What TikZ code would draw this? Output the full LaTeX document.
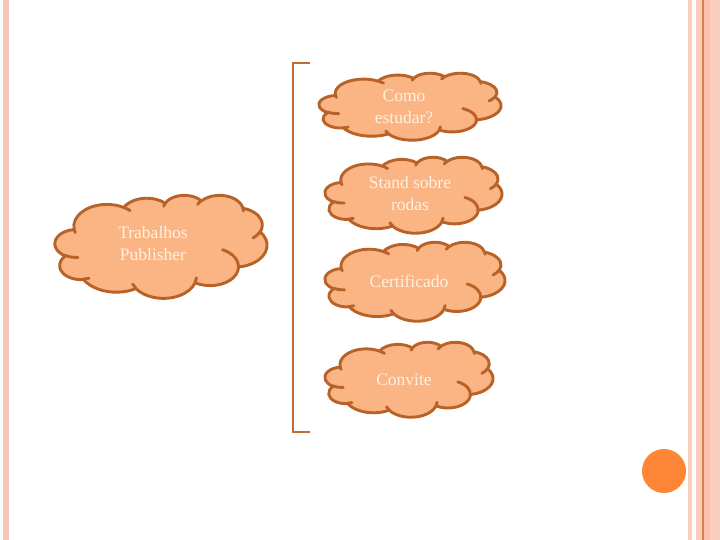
\documentclass[tikz,border=0pt]{standalone}
\usepackage{fontspec}
\setmainfont{Liberation Serif}
\definecolor{cloudfill}{RGB}{251,180,132}
\definecolor{cloudline}{RGB}{184,98,40}
\definecolor{cloudtxt}{RGB}{255,242,224}
\definecolor{brk}{RGB}{196,108,48}
\definecolor{stripeA}{RGB}{248,198,180}
\definecolor{stripeB}{RGB}{251,192,168}
\definecolor{stripeC}{RGB}{250,206,190}
\definecolor{stripeD}{RGB}{214,128,80}
\definecolor{dotc}{RGB}{253,134,55}
\tikzset{
  cloudshape/.style={draw=cloudline, fill=cloudfill, line width=2.9pt, line join=round},
  cloudlines/.style={draw=cloudline, line width=2.9pt, line cap=round},
  cloudtext/.style={text=cloudtxt, align=center, inner sep=0pt,
    font=\fontsize{17.5}{22}\selectfont},
  bracket/.style={draw=brk, line width=1.8pt},
  ca/.style n args={4}{insert path={arc[x radius=#1, y radius=#2,
     start angle={-atan2(#1*sin(#3),#2*cos(#3))},
     delta angle={-mod(atan2(#1*sin(#3+#4),#2*cos(#3+#4))-atan2(#1*sin(#3),#2*cos(#3))+720,360)}]}},
}
\newcommand{\pptcloud}[4]{%
  \pgfmathsetmacro\cux{#3/432}\pgfmathsetmacro\cuy{#4/432}%
  \begin{scope}[shift={(#1,#2+#4)}, x=\cux pt, y=\cuy pt]
    \path[cloudshape] (39.00,288.30)
      [ca={67.53}{91.90}{-190.49}{123.78}]
      [ca={53.33}{72.67}{-144.10}{89.95}]
      [ca={43.65}{59.45}{-145.81}{99.72}]
      [ca={48.57}{65.95}{-130.99}{117.24}]
      [ca={53.33}{72.73}{-78.71}{109.03}]
      [ca={67.75}{92.20}{-46.27}{130.27}]
      [ca={57.85}{78.67}{0.625}{114.03}]
      [ca={67.52}{92.15}{22.45}{115.17}]
      [ca={77.20}{105.43}{66.24}{75.71}]
      [ca={43.60}{59.18}{-274.94}{146.74}]
      [ca={43.45}{59.45}{-246.83}{152.52}] -- cycle;
    \path[cloudlines]
      (46.93,170.23) [ca={43.45}{59.45}{86.742}{26.430}]
      (69.28,83.01) [ca={43.60}{59.18}{73.610}{11.447}]
      (164.78,41.10) [ca={67.52}{92.15}{137.624}{14.081}]
      (288.27,84.49) [ca={67.52}{92.15}{6.453}{15.998}]
      (341.29,202.46) [ca={57.85}{78.67}{-70.292}{77.029}]
      (417.98,278.46) [ca={53.33}{72.73}{30.318}{27.752}]
      (383.24,377.74) [ca={48.57}{65.95}{-13.744}{14.862}]
      (290.78,392.48) [ca={48.57}{65.95}{-149.181}{18.196}]
      (221.41,384.80) [ca={43.65}{59.45}{-163.494}{17.687}]
      (140.00,380.08) [ca={67.53}{91.90}{-66.707}{12.319}]
      (41.27,274.11) [ca={67.53}{91.90}{157.654}{11.858}];
  \end{scope}}
\begin{document}
\begin{tikzpicture}[x=1pt,y=-1pt]
\useasboundingbox (0,0) rectangle (720,540);
\fill[white] (0,0) rectangle (720,540);
% stripes
\fill[stripeA] (3,0) rectangle (9,540);
\fill[stripeC] (688,0) rectangle (692,540);
\fill[stripeC] (696,0) rectangle (702,540);
\fill[stripeD] (702,0) rectangle (703.5,540);
\fill[stripeB] (703.5,0) rectangle (710,540);
\fill[stripeC] (710,0) rectangle (720,540);
% dot
\fill[dotc] (664,471) circle (22);
% bracket
\coordinate (bt) at (310,63);
\coordinate (bb) at (310,432);
\draw[bracket] (bt) -- (293,63) -- (293,432) -- (bb);
% clouds
\pptcloud{319}{73}{182}{67}
\pptcloud{325}{157}{177}{76}
\pptcloud{325}{242}{180}{79}
\pptcloud{325}{342}{168}{75}
\pptcloud{55}{195}{212}{103}
% texts
\node[cloudtext] (c1) at (404,107) {Como\\estudar?};
\node[cloudtext] (c2) at (410,194) {Stand sobre\\rodas};
\node[cloudtext] (c3) at (409,281) {Certificado};
\node[cloudtext] (c4) at (404,380) {Convite};
\node[cloudtext] (c5) at (153,244) {Trabalhos\\Publisher};
\end{tikzpicture}
\end{document}
